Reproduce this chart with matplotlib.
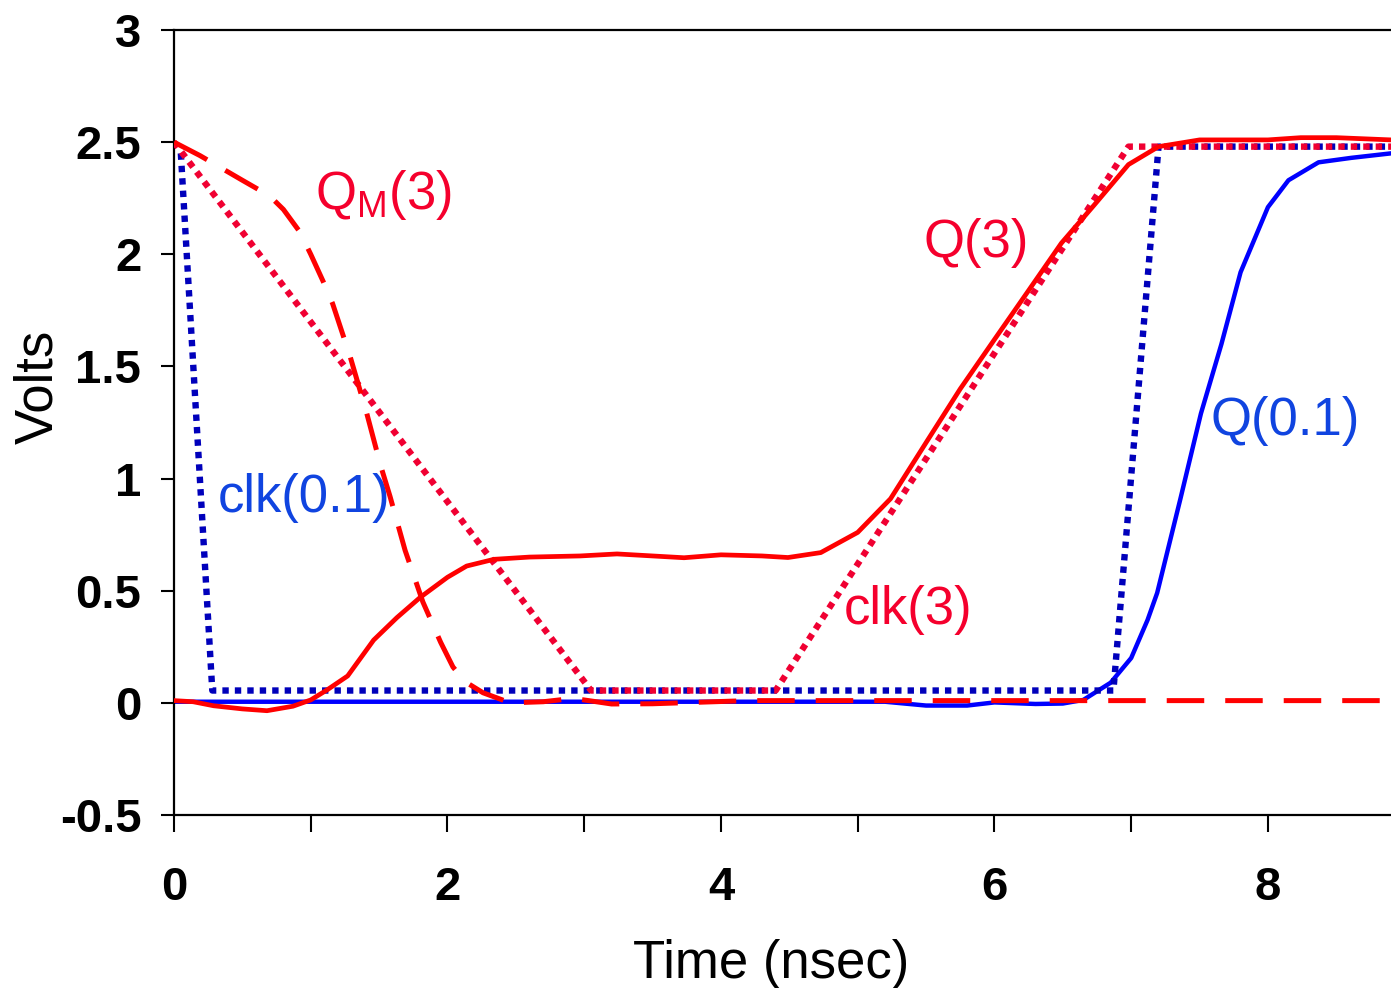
""" Latch clock/output waveforms for two clock slopes (0.1 ns and 3 ns). """

import numpy as np
import matplotlib
matplotlib.use('Agg')
import matplotlib.pyplot as plt

plt.rcParams['font.family'] = ['Liberation Sans', 'DejaVu Sans']
plt.rcParams['mathtext.fontset'] = 'custom'
plt.rcParams['mathtext.rm'] = 'Liberation Sans'
plt.rcParams['mathtext.it'] = 'Liberation Sans'

# clock inputs (piecewise linear)
clk3_t = [0.0, 3.05, 4.4, 6.98, 8.9]
clk3_v = [2.5, 0.055, 0.055, 2.48, 2.48]
clk01_t = [0.05, 0.28, 6.87, 7.2, 8.9]
clk01_v = [2.45, 0.055, 0.055, 2.48, 2.48]

# master node with slow clock
qm3_t = [0.0, 0.19, 0.5, 0.7, 0.8, 0.92, 1.0, 1.09, 1.16, 1.29, 1.41, 1.51, 1.58, 1.69, 1.82,
         1.95, 2.04, 2.13, 2.26, 2.46, 2.7, 2.92, 3.2, 3.5, 3.9, 4.2, 8.9]
qm3_v = [2.5, 2.44, 2.33, 2.26, 2.2, 2.1, 2.0, 1.88, 1.78, 1.54, 1.29, 1.06, 0.92, 0.68, 0.45,
         0.27, 0.16, 0.094, 0.045, 0.0, 0.005, 0.02, -0.005, -0.004, 0.004, 0.01, 0.01]

# output with slow clock
q3_t = [0.0, 0.14, 0.29, 0.5, 0.68, 0.87, 1.0, 1.12, 1.27, 1.46, 1.63, 1.8, 2.0, 2.14, 2.34,
        2.6, 2.97, 3.24, 3.5, 3.73, 4.0, 4.3, 4.49, 4.73, 5.0, 5.24, 5.51, 5.75, 6.0, 6.24,
        6.49, 6.73, 6.98, 7.2, 7.5, 8.0, 8.24, 8.5, 8.9]
q3_v = [0.01, 0.005, -0.013, -0.027, -0.035, -0.015, 0.013, 0.058, 0.12, 0.28, 0.38, 0.47,
        0.56, 0.61, 0.64, 0.65, 0.655, 0.664, 0.655, 0.647, 0.66, 0.655, 0.648, 0.67, 0.76,
        0.91, 1.17, 1.4, 1.62, 1.83, 2.05, 2.22, 2.4, 2.48, 2.51, 2.51, 2.52, 2.52, 2.51]

# output with fast clock
q01_t = [0.0, 5.2, 5.5, 5.8, 6.0, 6.3, 6.5, 6.65, 6.85, 7.0, 7.12, 7.19, 7.36, 7.51, 7.66,
         7.8, 8.0, 8.15, 8.37, 8.61, 8.9]
q01_v = [0.005, 0.005, -0.012, -0.012, 0.002, -0.005, -0.003, 0.013, 0.09, 0.2, 0.37, 0.49,
         0.91, 1.29, 1.6, 1.92, 2.21, 2.33, 2.41, 2.43, 2.45]

fig = plt.figure(figsize=(13.91, 9.88), dpi=100)
ax = fig.add_axes([174 / 1391, 173 / 988, 1217 / 1391, 785 / 988])

ax.plot(q01_t, q01_v, color='#0000FF', lw=3.2, zorder=2)
ax.plot(clk01_t, clk01_v, color='#0000BB', lw=4.6, linestyle=(0, (1, 0.95)), zorder=3)
ax.plot(clk3_t, clk3_v, color='#F00032', lw=4.6, linestyle=(0, (1, 0.95)), zorder=4)
ax.plot(qm3_t, qm3_v, color='#FF0000', lw=3.6, linestyle=(0, (7.5, 4.2)), zorder=5)
ax.plot(q3_t, q3_v, color='#FF0000', lw=3.4, zorder=6)

red_txt = '#F5002D'
blue_txt = '#1044E0'
ax.text(1.03, 2.2, r'Q$_\mathrm{M}$(3)', color=red_txt, fontsize=38, va='baseline')
ax.text(5.48, 1.99, 'Q(3)', color=red_txt, fontsize=38, va='baseline')
ax.text(0.32, 0.85, 'clk(0.1)', color=blue_txt, fontsize=38, va='baseline')
ax.text(4.9, 0.35, 'clk(3)', color=red_txt, fontsize=38, va='baseline')
ax.text(7.58, 1.195, 'Q(0.1)', color=blue_txt, fontsize=38, va='baseline')

ax.set_xlim(0, 8.9)
ax.set_ylim(-0.5, 3)
ax.set_xticks([0, 2, 4, 6, 8])
ax.set_xticks([1, 3, 5, 7], minor=True)
ax.set_yticks(np.arange(-0.5, 3.01, 0.5))
ax.set_yticklabels(['-0.5', '0', '0.5', '1', '1.5', '2', '2.5', '3'])

tick_font = ['Liberation Sans Narrow', 'Liberation Sans']
for lab in ax.get_xticklabels() + ax.get_yticklabels():
    lab.set_family(tick_font)
    lab.set_fontweight('bold')
    lab.set_fontsize(34)

ax.tick_params(axis='x', which='both', direction='out', length=12, width=1.5, pad=25)
ax.tick_params(axis='y', direction='out', length=9.5, width=1.5, pad=14)

for side in ['left', 'bottom', 'top']:
    ax.spines[side].set_linewidth(1.6)
    ax.spines[side].set_color('black')
ax.spines['right'].set_visible(False)

ax.set_xlabel('Time (nsec)', fontsize=38)
ax.set_ylabel('Volts', fontsize=38)
ax.xaxis.set_label_coords(0.491, -0.158)
ax.yaxis.set_label_coords(-0.091, 0.545)

fig.savefig('out.png', dpi=100)
